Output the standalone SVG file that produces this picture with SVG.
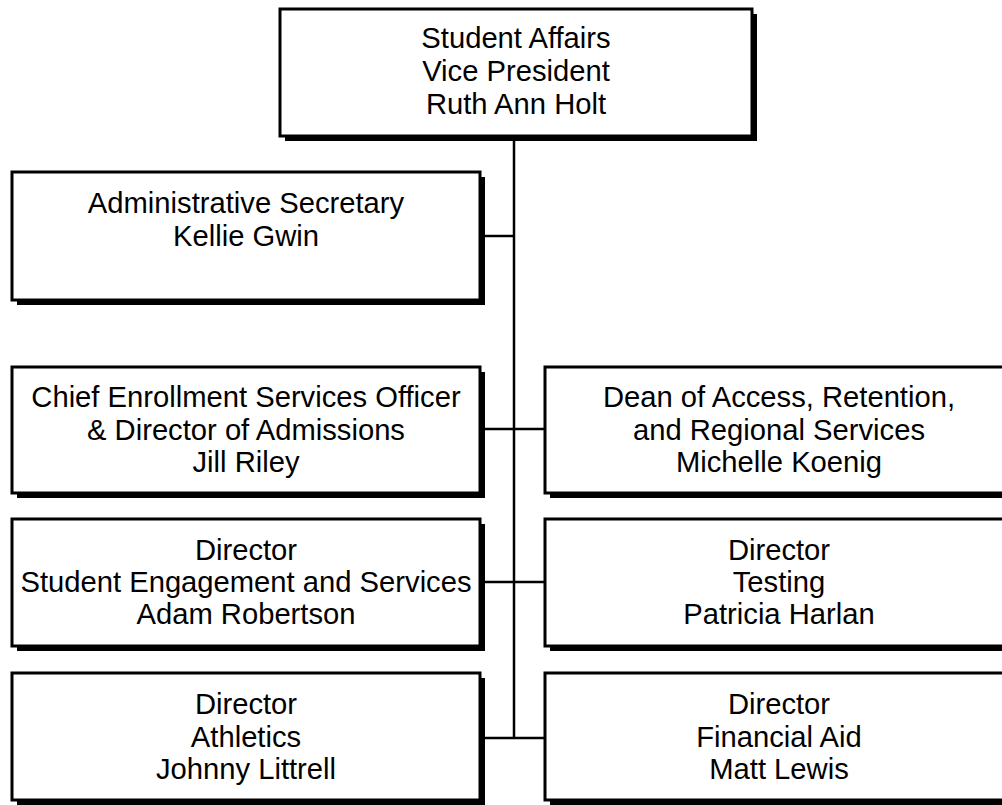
<svg xmlns="http://www.w3.org/2000/svg" width="1002" height="805" viewBox="0 0 1002 805">
<style>
.sh{fill:#000}
.bx{fill:#fff;stroke:#000;stroke-width:3}
.t{font-family:"Liberation Sans",Arial,sans-serif;font-size:29.2px;fill:#000;text-anchor:middle}
.c{stroke:#000;stroke-width:2.5;fill:none}
</style>
<rect width="1002" height="805" fill="#fff"/>
<g id="connectors">
<line class="c" x1="514" y1="137" x2="514" y2="738"/>
<line class="c" x1="482" y1="236" x2="514" y2="236"/>
<line class="c" x1="482" y1="429" x2="545" y2="429"/>
<line class="c" x1="482" y1="582" x2="545" y2="582"/>
<line class="c" x1="482" y1="738" x2="545" y2="738"/>
</g>
<g id="vp">
<rect class="sh" x="285" y="14" width="472" height="127"/>
<rect class="bx" x="280" y="9" width="472" height="127"/>
<text class="t" x="516" y="48">Student Affairs</text>
<text class="t" x="516" y="81">Vice President</text>
<text class="t" x="516" y="114">Ruth Ann Holt</text>
</g>
<g id="admin">
<rect class="sh" x="17" y="177" width="468" height="128"/>
<rect class="bx" x="12" y="172" width="468" height="128"/>
<text class="t" x="246" y="213">Administrative Secretary</text>
<text class="t" x="246" y="246">Kellie Gwin</text>
</g>
<g id="enroll">
<rect class="sh" x="17" y="372" width="468" height="126"/>
<rect class="bx" x="12" y="367" width="468" height="126"/>
<text class="t" x="246" y="407">Chief Enrollment Services Officer</text>
<text class="t" x="246" y="440">&amp; Director of Admissions</text>
<text class="t" x="246" y="472">Jill Riley</text>
</g>
<g id="dean">
<rect class="sh" x="550" y="372" width="468" height="126"/>
<rect class="bx" x="545" y="367" width="468" height="126"/>
<text class="t" x="779" y="407">Dean of Access, Retention,</text>
<text class="t" x="779" y="440">and Regional Services</text>
<text class="t" x="779" y="472">Michelle Koenig</text>
</g>
<g id="engagement">
<rect class="sh" x="17" y="524" width="468" height="127"/>
<rect class="bx" x="12" y="519" width="468" height="127"/>
<text class="t" x="246" y="560">Director</text>
<text class="t" x="246" y="592">Student Engagement and Services</text>
<text class="t" x="246" y="624">Adam Robertson</text>
</g>
<g id="testing">
<rect class="sh" x="550" y="524" width="468" height="127"/>
<rect class="bx" x="545" y="519" width="468" height="127"/>
<text class="t" x="779" y="560">Director</text>
<text class="t" x="779" y="592">Testing</text>
<text class="t" x="779" y="624">Patricia Harlan</text>
</g>
<g id="athletics">
<rect class="sh" x="17" y="678" width="468" height="127"/>
<rect class="bx" x="12" y="673" width="468" height="127"/>
<text class="t" x="246" y="714">Director</text>
<text class="t" x="246" y="747">Athletics</text>
<text class="t" x="246" y="779">Johnny Littrell</text>
</g>
<g id="finaid">
<rect class="sh" x="550" y="678" width="468" height="127"/>
<rect class="bx" x="545" y="673" width="468" height="127"/>
<text class="t" x="779" y="714">Director</text>
<text class="t" x="779" y="747">Financial Aid</text>
<text class="t" x="779" y="779">Matt Lewis</text>
</g>
</svg>
